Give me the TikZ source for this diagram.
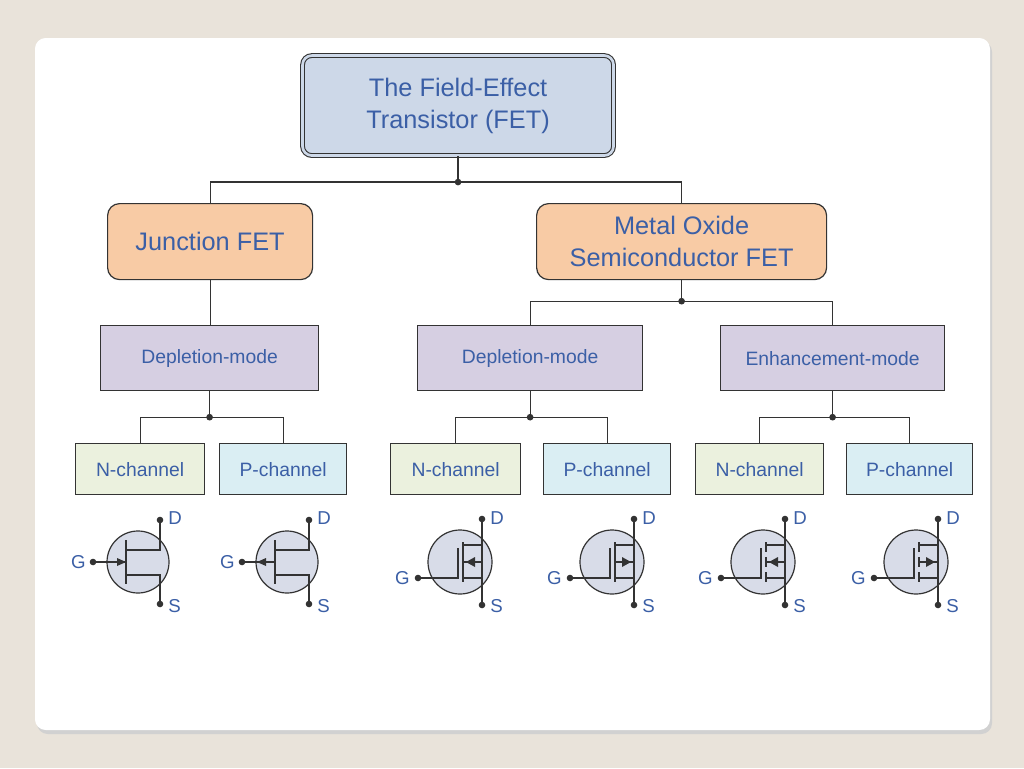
\documentclass[tikz,border=0pt]{standalone}
\usepackage{fontspec}
\setmainfont{Liberation Sans}
\usetikzlibrary{arrows.meta,calc}
\definecolor{bg}{HTML}{E9E3DA}
\definecolor{txt}{HTML}{3B5FA6}
\definecolor{topf}{HTML}{CDD8E8}
\definecolor{orf}{HTML}{F8CBA5}
\definecolor{puf}{HTML}{D6CFE2}
\definecolor{nf}{HTML}{EBF1DE}
\definecolor{pf}{HTML}{DAEEF3}
\definecolor{symf}{HTML}{D8DCE8}
\definecolor{ln}{HTML}{333333}
\tikzset{
 box/.style={draw=ln, line width=0.9pt, text=txt, align=center, inner sep=0pt, anchor=north west},
 wire/.style={draw=ln, line width=0.9pt},
 jn/.style={circle, fill=ln, inner sep=0pt, minimum size=5pt},
 lbl/.style={text=txt, font=\fontsize{14}{15}\selectfont, inner sep=0pt},
 sym/.style={draw=ln, line width=0.9pt},
 big/.style={font=\fontsize{19}{24}\selectfont},
 small/.style={font=\fontsize{14.5}{16}\selectfont},
}
\newcommand{\mkbox}[7]{% name, x1,y1,x2,y2, style, text
 \node[box,#6, minimum width={(#4-#2)*0.75pt}, minimum height={(#5-#3)*0.75pt}] (#1) at (#2,#3) {#7};}
\newcommand{\myjfet}[3]{%
 \begin{scope}[shift={(#1,#2)}]
  \draw[sym, fill=symf] (0,0) circle (31);
  \draw[sym] (-12,-22) -- (-12,22);
  \draw[sym] (22,-42) -- (22,-12) -- (-12,-12);
  \draw[sym] (22,42) -- (22,13) -- (-12,13);
  \draw[sym] (-45,0) -- (-12,0);
  \ifnum#3=1 \fill[ln] (-12,0) -- (-21,-4) -- (-21,4) -- cycle;
  \else \fill[ln] (-30,0) -- (-21,-4) -- (-21,4) -- cycle; \fi
  \fill[ln] (22,-42) circle (3.3) (22,42) circle (3.3) (-45,0) circle (3.3);
  \node[lbl, anchor=west] at (30,-44) {D};
  \node[lbl, anchor=west] at (30,44) {S};
  \node[lbl, anchor=east] at (-52,0) {G};
 \end{scope}}
\newcommand{\mymos}[4]{%
 \begin{scope}[shift={(#1,#2)}]
  \draw[sym, fill=symf] (0,0) circle (32);
  \draw[sym] (-42,16) -- (-2,16) -- (-2,-14);
  \ifnum#4=1
   \draw[sym] (3,-20) -- (3,-10) (3,-5) -- (3,5) (3,10) -- (3,20);
  \else
   \draw[sym] (3,-20) -- (3,20);
  \fi
  \draw[sym] (22,-43) -- (22,43);
  \draw[sym] (3,-17) -- (22,-17);
  \draw[sym] (3,16) -- (22,16);
  \draw[sym] (3,0) -- (22,0);
  \ifnum#3=1 \fill[ln] (6,0) -- (15,-5) -- (15,5) -- cycle;
  \else \fill[ln] (19,0) -- (10,-5) -- (10,5) -- cycle; \fi
  \fill[ln] (22,-43) circle (3.3) (22,43) circle (3.3) (-42,16) circle (3.3);
  \node[lbl, anchor=west] at (30,-44) {D};
  \node[lbl, anchor=west] at (30,44) {S};
  \node[lbl, anchor=east] at (-50,16) {G};
 \end{scope}}
\begin{document}
\begin{tikzpicture}[x=0.75pt,y=-0.75pt]
\fill[bg] (0,0) rectangle (1024,768);
\useasboundingbox (0,0) rectangle (1024,768);
\fill[black!18, rounded corners=8] (37,41) rectangle (992,734);
\fill[white, rounded corners=8] (35,38) rectangle (990,730);
\node[box, fill=topf, rounded corners=7, double=topf, double distance=2pt, draw=ln, line width=0.8pt,
  minimum width={(311)*0.75pt}, minimum height={(100)*0.75pt}, big] (top) at (302,55) {The Field-Effect\\Transistor (FET)};
\mkbox{jfet}{107}{203}{312}{279}{fill=orf, rounded corners=9, big}{Junction FET}
\mkbox{mos}{536}{203}{826}{279}{fill=orf, rounded corners=9, big}{Metal Oxide\\Semiconductor FET}
\mkbox{jd}{100}{325}{318}{390}{fill=puf, small}{Depletion-mode}
\mkbox{md}{417}{325}{642}{390}{fill=puf, small}{Depletion-mode}
\mkbox{me}{720}{325}{944}{390}{fill=puf, small}{Enhancement-mode}
\mkbox{n1}{75}{443}{204}{494}{fill=nf, small}{N-channel}
\mkbox{p1}{219}{443}{346}{494}{fill=pf, small}{P-channel}
\mkbox{n2}{390}{443}{520}{494}{fill=nf, small}{N-channel}
\mkbox{p2}{543}{443}{670}{494}{fill=pf, small}{P-channel}
\mkbox{n3}{695}{443}{823}{494}{fill=nf, small}{N-channel}
\mkbox{p3}{846}{443}{972}{494}{fill=pf, small}{P-channel}
% connectors
\coordinate (b0) at ($(top.south)+(0,26)$);
\draw[wire] (top.south) -- (b0);
\draw[wire] (jfet.north) |- (b0) -| (mos.north);
\node[jn] at (b0) {};
\draw[wire] (jfet.south) -- (jfet.south |- jd.north);
\coordinate (b1) at ($(jd.south)+(0,26)$);
\draw[wire] (jd.south) -- (b1);
\draw[wire] (n1.north) |- (b1) -| (p1.north);
\node[jn] at (b1) {};
\coordinate (b2) at ($(mos.south)+(0,21)$);
\draw[wire] (mos.south) -- (b2);
\draw[wire] (md.north) |- (b2) -| (me.north);
\node[jn] at (b2) {};
\coordinate (b3) at ($(md.south)+(0,26)$);
\draw[wire] (md.south) -- (b3);
\draw[wire] (n2.north) |- (b3) -| (p2.north);
\node[jn] at (b3) {};
\coordinate (b4) at ($(me.south)+(0,26)$);
\draw[wire] (me.south) -- (b4);
\draw[wire] (n3.north) |- (b4) -| (p3.north);
\node[jn] at (b4) {};
\myjfet{138}{562}{1}
\myjfet{287}{562}{0}
\mymos{460}{562}{1}{0}
\mymos{612}{562}{0}{0}
\mymos{763}{562}{1}{1}
\mymos{916}{562}{0}{1}
\end{tikzpicture}
\end{document}
